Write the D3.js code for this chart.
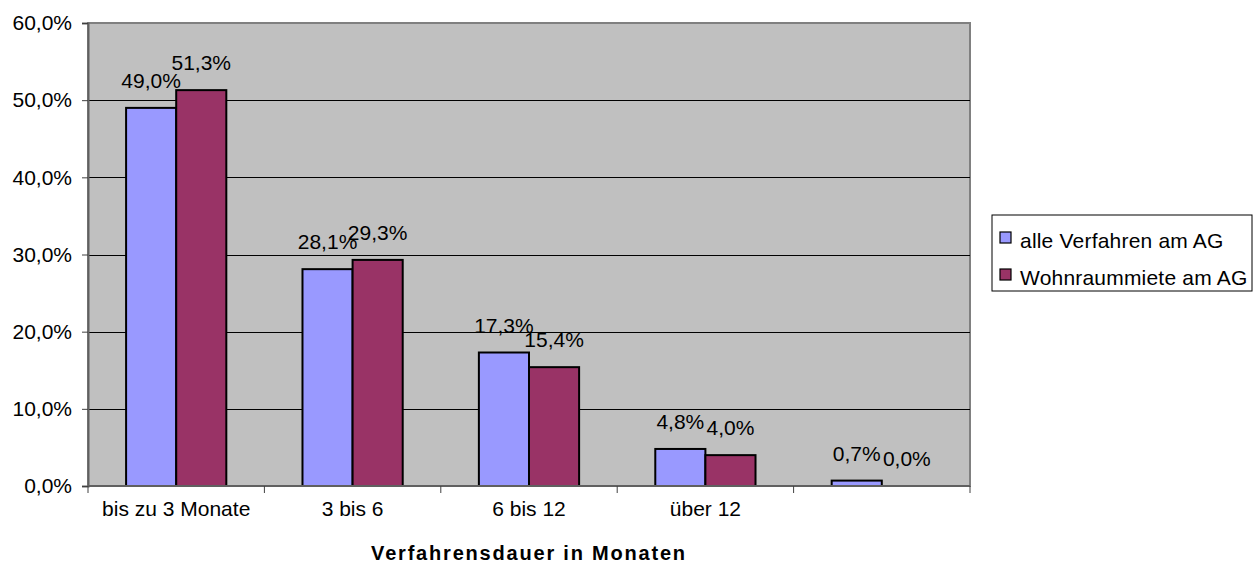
<!DOCTYPE html>
<html>
<meta charset="utf-8">
<style>
body {
  margin: 0;
  background: #fff;
  font-family: 'Liberation Sans', Arial, sans-serif;
}
.axis path { stroke: #808080; }
.axis line { stroke: #404040; }
.axis text { font-size: 21px; fill: #000; font-family: 'Liberation Sans', Arial, sans-serif; }
.grid line { stroke: #000; stroke-width: 1; shape-rendering: crispEdges; }
.label { font-size: 21px; fill: #000; text-anchor: middle; }
</style>
<body>
<script src="https://cdn.jsdelivr.net/npm/d3@7"></script>
<script>
var w = 1260, h = 566;

// data
var categories = ["bis zu 3 Monate", "3 bis 6", "6 bis 12", "über 12", ""];
var seriesNames = ["alle Verfahren am AG", "Wohnraummiete am AG"];
var alleVerfahren = [49.0, 28.1, 17.3, 4.8, 0.7];
var wohnraummiete = [51.3, 29.3, 15.4, 4.0, 0.0];
var yTicks = [0, 10, 20, 30, 40, 50, 60];
var colors = ["#9999FF", "#993366"];

var seriesValues = [alleVerfahren, wohnraummiete];

var de = d3.formatLocale({decimal: ",", thousands: ".", grouping: [3], currency: ["", " €"]});
var fmt = function(v) { return de.format(".1f")(v) + "%"; };

var plot = {left: 88, right: 970, top: 23, bottom: 486};

var x0 = d3.scaleBand()
    .domain(d3.range(categories.length))
    .range([plot.left, plot.right])
    .padding(0);

var x1 = d3.scaleBand()
    .domain(d3.range(seriesNames.length))
    .range([0, x0.bandwidth()])
    .paddingInner(0)
    .paddingOuter(0.76);

var y = d3.scaleLinear()
    .domain([0, 60])
    .range([plot.bottom, plot.top]);

var svg = d3.select("body").append("svg")
    .attr("width", w)
    .attr("height", h);

// plot background
svg.append("rect")
    .attr("x", plot.left)
    .attr("y", plot.top)
    .attr("width", plot.right - plot.left)
    .attr("height", plot.bottom - plot.top)
    .style("fill", "#C0C0C0")
    .style("stroke", "#808080")
    .style("stroke-width", 2);

// gridlines
svg.append("g")
    .attr("class", "grid")
    .selectAll("line")
    .data(yTicks.filter(function(d) { return d > 0 && d < 60; }))
    .enter()
    .append("line")
    .attr("x1", plot.left)
    .attr("x2", plot.right)
    .attr("y1", function(d) { return Math.round(y(d)) + 0.5; })
    .attr("y2", function(d) { return Math.round(y(d)) + 0.5; });

// bars
var groups = svg.selectAll(".grp")
    .data(categories)
    .enter()
    .append("g")
    .attr("class", "grp")
    .attr("transform", function(d, i) { return "translate(" + x0(i) + ",0)"; });

groups.selectAll("rect")
    .data(function(d, i) { return seriesValues.map(function(s, j) { return {s: j, v: s[i]}; }); })
    .enter()
    .filter(function(d) { return d.v > 0; })
    .append("rect")
    .attr("x", function(d) { return x1(d.s); })
    .attr("y", function(d) { return y(d.v); })
    .attr("width", x1.bandwidth())
    .attr("height", function(d) { return y(0) - y(d.v); })
    .style("fill", function(d) { return colors[d.s]; })
    .style("stroke", "#000")
    .style("stroke-width", 2);

// data labels
groups.selectAll("text")
    .data(function(d, i) { return seriesValues.map(function(s, j) { return {s: j, v: s[i]}; }); })
    .enter()
    .append("text")
    .attr("class", "label")
    .attr("x", function(d) { return x1(d.s) + x1.bandwidth() / 2; })
    .attr("y", function(d) { return y(d.v) - 20; })
    .text(function(d) { return fmt(d.v); });

// y axis
var yAxis = d3.axisLeft(y)
    .tickValues(yTicks)
    .tickSize(6)
    .tickPadding(10)
    .tickFormat(function(d) { return fmt(d); });

svg.append("g")
    .attr("class", "axis")
    .attr("transform", "translate(" + plot.left + ",0)")
    .call(yAxis)
    .call(function(g) { g.select(".domain").style("stroke", "#606060").style("stroke-width", 2); });

// x axis line + ticks at category boundaries
var xa = svg.append("g").attr("class", "axis");
xa.append("line")
    .attr("x1", plot.left)
    .attr("x2", plot.right)
    .attr("y1", plot.bottom)
    .attr("y2", plot.bottom)
    .style("stroke", "#606060")
    .style("stroke-width", 2);
xa.selectAll(".tk")
    .data(d3.range(categories.length + 1))
    .enter()
    .append("line")
    .attr("class", "tk")
    .attr("x1", function(i) { return i < categories.length ? x0(i) : x0.range()[1]; })
    .attr("x2", function(i) { return i < categories.length ? x0(i) : x0.range()[1]; })
    .attr("y1", plot.bottom)
    .attr("y2", plot.bottom + 7)
    .style("stroke", "#404040");
xa.selectAll(".cat")
    .data(categories)
    .enter()
    .append("text")
    .attr("x", function(d, i) { return x0(i) + x0.bandwidth() / 2; })
    .attr("y", 516)
    .style("text-anchor", "middle")
    .text(function(d) { return d; });

// axis title
svg.append("text")
    .attr("x", (plot.left + plot.right) / 2)
    .attr("y", 560)
    .style("text-anchor", "middle")
    .style("font-size", "20px")
    .style("font-weight", "bold")
    .style("letter-spacing", "1.8px")
    .text("Verfahrensdauer in Monaten");

// legend
var lg = svg.append("g").attr("transform", "translate(992,215)");
lg.append("rect")
    .attr("width", 260)
    .attr("height", 76)
    .style("fill", "#fff")
    .style("stroke", "#000")
    .style("stroke-width", 1);

var item = lg.selectAll(".legend")
    .data(seriesNames)
    .enter()
    .append("g")
    .attr("class", "legend")
    .attr("transform", function(d, i) { return "translate(0," + i * 37 + ")"; });

item.append("rect")
    .attr("x", 8)
    .attr("y", 17)
    .attr("width", 11)
    .attr("height", 11)
    .style("fill", function(d, i) { return colors[i]; })
    .style("stroke", "#000")
    .style("stroke-width", 1.2);

item.append("text")
    .attr("x", 28)
    .attr("y", 26)
    .attr("dy", ".35em")
    .style("font-size", "21px")
    .style("letter-spacing", "0.2px")
    .style("fill", "#000")
    .text(function(d) { return d; });
</script>
</body>
</html>
